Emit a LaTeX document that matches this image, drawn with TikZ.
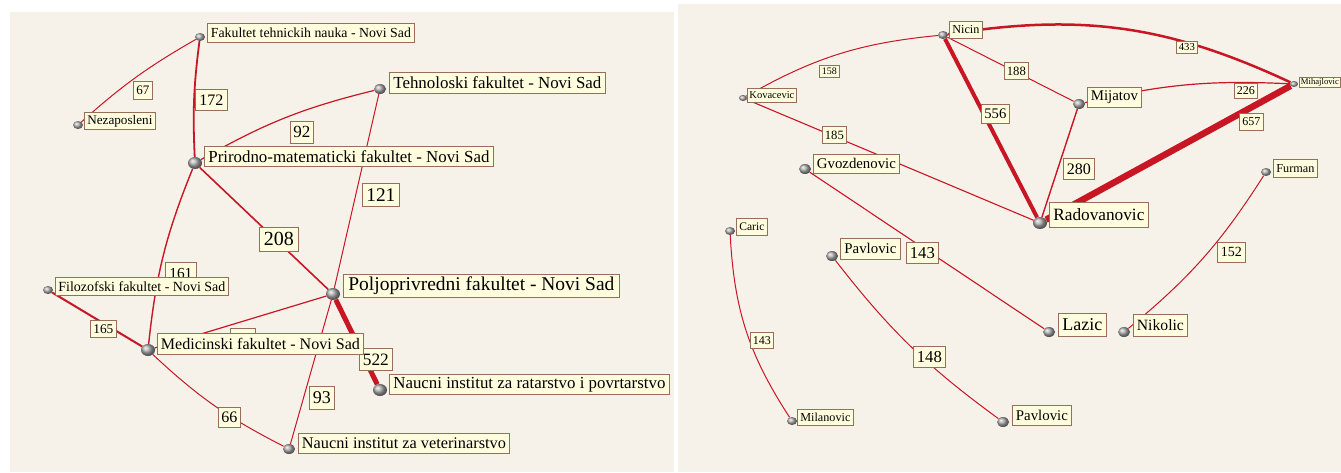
\documentclass[tikz,border=0pt]{standalone}
\usepackage{fontspec}
\setmainfont{Liberation Serif}
\usepackage{graphicx}
\usetikzlibrary{shapes.geometric}
\definecolor{panelbg}{RGB}{246,242,233}
\definecolor{lblfill}{RGB}{255,253,222}
\definecolor{lbldraw}{RGB}{150,110,90}
\definecolor{edgecol}{RGB}{200,22,36}
% scale a text to a given width in pt
\newcommand{\fitto}[2]{\resizebox{#1pt}{!}{#2}}
\pgfdeclarelayer{paper}
\pgfdeclarelayer{lines}
\pgfsetlayers{paper,lines,main}

\begin{document}
\begin{tikzpicture}[x=1pt,y=1pt,
  ball/.style={ellipse, inner sep=0pt, ball color=gray!65, draw=none},
  xsball/.style={ball, minimum width=8pt, minimum height=6pt},
  sball/.style={ball, minimum width=10pt, minimum height=8pt},
  mball/.style={ball, minimum width=12pt, minimum height=10pt},
  lball/.style={ball, minimum width=14pt, minimum height=12pt},
  nlabel/.style={draw=lbldraw, fill=lblfill, line width=0.8pt, inner sep=0pt, anchor=north west},
  link/.style={draw=edgecol, line width=#1},
  link/.default=1pt
]
\useasboundingbox (0,0) rectangle (1341,-472);

% the two panels
\begin{pgfonlayer}{paper}
\fill[white] (0,0) rectangle (1341,-472);
\fill[panelbg] (10,-12) rectangle (674,-472);
\fill[panelbg] (678,-4) rectangle (1341,-472);
\end{pgfonlayer}

% ---------- left graph: nodes ----------
\node[sball] (nftn)  at (200,-37)  {};
\node[sball] (nnez)  at (78,-125)  {};
\node[lball] (npmf)  at (195,-163) {};
\node[mball] (ntehn) at (380,-89)  {};
\node[lball] (npolj) at (333,-294) {};
\node[sball] (nfilo) at (48,-290)  {};
\node[lball] (nmed)  at (148,-350) {};
\node[lball] (nrat)  at (380,-390) {};
\node[mball] (nvet)  at (289,-449) {};

% ---------- right graph: nodes ----------
\node[sball]  (nnic)  at (943,-35)   {};
\node[xsball] (nkov)  at (743,-98)   {};
\node[mball]  (nmij)  at (1079,-104) {};
\node[lball]  (nrad)  at (1040,-223) {};
\node[xsball] (nmih)  at (1294,-84)  {};
\node[mball]  (ngvo)  at (805,-169)  {};
\node[mball]  (nlaz)  at (1049,-332) {};
\node[sball]  (ncar)  at (730,-231)  {};
\node[sball]  (nmil)  at (792,-421)  {};
\node[mball]  (npav)  at (832,-256)  {};
\node[mball]  (npavb) at (1003,-422) {};
\node[mball]  (nnik)  at (1124,-332) {};
\node[sball]  (nfur)  at (1266,-172) {};

% ---------- connectors, kept under the spheres ----------
\begin{pgfonlayer}{lines}
\draw[link=1pt]   (nnez) to[bend left=6] (nftn);
\draw[link=1.8pt] (nftn) to[bend right=5] (npmf);
\draw[link=1.2pt] (npmf) to[bend left=8] (ntehn);
\draw[link=1pt]   (ntehn) -- (npolj);
\draw[link=1.6pt] (npmf) -- (npolj);
\draw[link=1.4pt] (npmf) to[bend right=8] (nmed);
\draw[link=2pt]   (nfilo) -- (nmed);
\draw[link=1.2pt] (nmed) -- (npolj);
\draw[link=5pt]   (npolj) -- (nrat);
\draw[link=1pt]   (npolj) -- (nvet);
\draw[link=1pt]   (nmed) to[bend right=8] (nvet);

\draw[link=1pt]   (nkov) to[bend left=12] (nnic);
\draw[link=1pt]   (nnic) -- (nmij);
\draw[link=4pt]   (nnic) -- (nrad);
\draw[link=1.1pt] (nkov) -- (nrad);
\draw[link=2.5pt] (nnic) to[bend left=17] (nmih);
\draw[link=1.2pt] (nmij) to[bend left=8] (nmih);
\draw[link=6.5pt] (nrad) -- (nmih);
\draw[link=1.4pt] (nmij) -- (nrad);
\draw[link=1.1pt] (ngvo) -- (nlaz);
\draw[link=1pt]   (ncar) to[bend right=15] (nmil);
\draw[link=1pt]   (npav) to[bend right=8] (npavb);
\draw[link=1pt]   (nnik) to[bend right=9] (nfur);
\end{pgfonlayer}

% ---------- edge weights ----------
\node[nlabel, minimum width=19pt, minimum height=18pt] (w67)  at (133,-81)  {\fitto{13}{67}};
\node[nlabel, minimum width=32pt, minimum height=21pt] (w172) at (195,-89)  {\fitto{24}{172}};
\node[nlabel, minimum width=23pt, minimum height=22pt] (w92)  at (290,-121) {\fitto{17}{92}};
\node[nlabel, minimum width=37pt, minimum height=23pt] (w121) at (362,-183) {\fitto{29}{121}};
\node[nlabel, minimum width=39pt, minimum height=24pt] (w208) at (259,-227) {\fitto{30}{208}};
\node[nlabel, minimum width=31pt, minimum height=22pt] (w161) at (165,-262) {\fitto{23}{161}};
\node[nlabel, minimum width=26pt, minimum height=17pt] (w165) at (90,-320)  {\fitto{20}{165}};
\node[nlabel, minimum width=25pt, minimum height=20pt] (wmp)  at (230,-328) {};
\node[nlabel, minimum width=33pt, minimum height=22pt] (w522) at (359,-348) {\fitto{26}{522}};
\node[nlabel, minimum width=25pt, minimum height=23pt] (w93)  at (309,-386) {\fitto{18}{93}};
\node[nlabel, minimum width=22pt, minimum height=20pt] (w66)  at (218,-407) {\fitto{16}{66}};

\node[nlabel, minimum width=20pt, minimum height=12pt] (w158) at (819,-65)   {\fitto{15}{158}};
\node[nlabel, minimum width=24pt, minimum height=17pt] (w188) at (1004,-62)  {\fitto{19}{188}};
\node[nlabel, minimum width=28pt, minimum height=19pt] (w556) at (981,-104)  {\fitto{22}{556}};
\node[nlabel, minimum width=24pt, minimum height=17pt] (w185) at (822,-126)  {\fitto{19}{185}};
\node[nlabel, minimum width=21pt, minimum height=12pt] (w433) at (1176,-41)  {\fitto{16}{433}};
\node[nlabel, minimum width=23pt, minimum height=15pt] (w226) at (1234,-83)  {\fitto{18}{226}};
\node[nlabel, minimum width=24pt, minimum height=17pt] (w657) at (1239,-113) {\fitto{18}{657}};
\node[nlabel, minimum width=31pt, minimum height=21pt] (w280) at (1063,-158) {\fitto{24}{280}};
\node[nlabel, minimum width=32pt, minimum height=21pt] (w143a) at (906,-242) {\fitto{25}{143}};
\node[nlabel, minimum width=23pt, minimum height=16pt] (w143b) at (750,-332) {\fitto{18}{143}};
\node[nlabel, minimum width=32pt, minimum height=21pt] (w148) at (913,-346)  {\fitto{25}{148}};
\node[nlabel, minimum width=28pt, minimum height=20pt] (w152) at (1217,-242) {\fitto{21}{152}};

% ---------- node names ----------
\node[nlabel, minimum width=207pt, minimum height=19pt] (lftn)  at (207,-23)  {\fitto{200}{Fakultet tehnickih nauka - Novi Sad}};
\node[nlabel, minimum width=71pt,  minimum height=17pt] (lnez)  at (84,-112)  {\fitto{65}{Nezaposleni}};
\node[nlabel, minimum width=289pt, minimum height=20pt] (lpmf)  at (204,-146) {\fitto{281}{Prirodno-matematicki fakultet - Novi Sad}};
\node[nlabel, minimum width=216pt, minimum height=21pt] (ltehn) at (389,-72)  {\fitto{208}{Tehnoloski fakultet - Novi Sad}};
\node[nlabel, minimum width=276pt, minimum height=23pt] (lpolj) at (343,-274) {\fitto{266}{Poljoprivredni fakultet - Novi Sad}};
\node[nlabel, minimum width=173pt, minimum height=18pt] (lfilo) at (55,-277)  {\fitto{167}{Filozofski fakultet - Novi Sad}};
\node[nlabel, minimum width=206pt, minimum height=21pt] (lmed)  at (157,-333) {\fitto{199}{Medicinski fakultet - Novi Sad}};
\node[nlabel, minimum width=280pt, minimum height=20pt] (lrat)  at (389,-374) {\fitto{272}{Naucni institut za ratarstvo i povrtarstvo}};
\node[nlabel, minimum width=211pt, minimum height=20pt] (lvet)  at (298,-433) {\fitto{204}{Naucni institut za veterinarstvo}};

\node[nlabel, minimum width=33pt, minimum height=17pt] (lnic)  at (949,-21)   {\fitto{27}{Nicin}};
\node[nlabel, minimum width=49pt, minimum height=14pt] (lkov)  at (747,-88)   {\fitto{45}{Kovacevic}};
\node[nlabel, minimum width=54pt, minimum height=20pt] (lmij)  at (1087,-87)  {\fitto{47}{Mijatov}};
\node[nlabel, minimum width=99pt, minimum height=25pt] (lrad)  at (1049,-202) {\fitto{91}{Radovanovic}};
\node[nlabel, minimum width=41pt, minimum height=10pt] (lmih)  at (1299,-77)  {\fitto{38}{Mihajlovic}};
\node[nlabel, minimum width=86pt, minimum height=19pt] (lgvo)  at (813,-154)  {\fitto{79}{Gvozdenovic}};
\node[nlabel, minimum width=48pt, minimum height=23pt] (llaz)  at (1058,-313) {\fitto{40}{Lazic}};
\node[nlabel, minimum width=31pt, minimum height=17pt] (lcar)  at (736,-218)  {\fitto{25}{Caric}};
\node[nlabel, minimum width=56pt, minimum height=16pt] (lmil)  at (797,-409)  {\fitto{50}{Milanovic}};
\node[nlabel, minimum width=60pt, minimum height=21pt] (lpav)  at (840,-238)  {\fitto{52}{Pavlovic}};
\node[nlabel, minimum width=59pt, minimum height=20pt] (lpavb) at (1012,-405) {\fitto{52}{Pavlovic}};
\node[nlabel, minimum width=54pt, minimum height=22pt] (lnik)  at (1133,-314) {\fitto{47}{Nikolic}};
\node[nlabel, minimum width=44pt, minimum height=18pt] (lfur)  at (1273,-159) {\fitto{38}{Furman}};
\end{tikzpicture}
\end{document}
